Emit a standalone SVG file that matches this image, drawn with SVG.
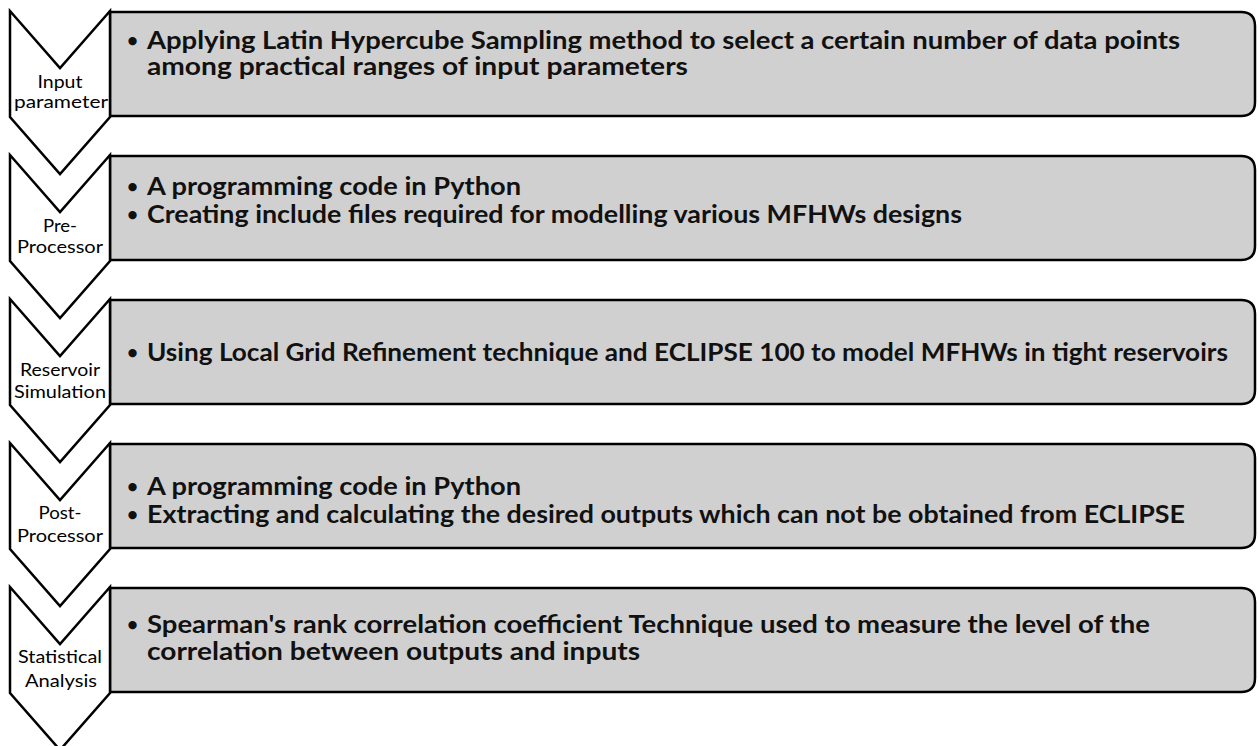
<svg xmlns="http://www.w3.org/2000/svg" width="1258" height="746" viewBox="0 0 1258 746">
<style>
.chev{fill:#ffffff;stroke:#000;stroke-width:2.5;stroke-linejoin:miter}
.box{fill:#d0d0d0;stroke:#000;stroke-width:2.5}
.lbl{font-family:Lato,"Liberation Sans",sans-serif;font-size:17px;fill:#000;text-anchor:middle}
.txt{font-family:Lato,"Liberation Sans",sans-serif;font-size:25px;font-weight:bold;fill:#111}
.bul{font-family:Lato,"Liberation Sans",sans-serif;font-size:19px;font-weight:bold;fill:#111}
</style>
<rect width="1258" height="746" fill="#fff"/>
<defs>
<path id="chevShape" d="M10,0 L60,57 L110,0 L110,106 L60,163 L10,106 Z"/>
<path id="boxShape" d="M110,1 L1241,1 Q1255,1 1255,15 L1255,91 Q1255,105 1241,105 L110,105 Z"/>
</defs>
<g id="node1" transform="translate(0,11)">
<use href="#boxShape" class="box"/>
<use href="#chevShape" class="chev"/>
<text class="lbl" x="60" y="77" textLength="45" lengthAdjust="spacingAndGlyphs">Input</text>
<text class="lbl" x="61" y="97" textLength="94" lengthAdjust="spacingAndGlyphs">parameter</text>
<text class="bul" x="127" y="36">•</text>
<text class="txt" x="147" y="38" textLength="1033" lengthAdjust="spacingAndGlyphs">Applying Latin Hypercube Sampling method to select a certain number of data points</text>
<text class="txt" x="147" y="64" textLength="541" lengthAdjust="spacingAndGlyphs">among practical ranges of input parameters</text>
</g>
<g id="node2" transform="translate(0,155)">
<use href="#boxShape" class="box"/>
<use href="#chevShape" class="chev"/>
<text class="lbl" x="60" y="77" textLength="34" lengthAdjust="spacingAndGlyphs">Pre-</text>
<text class="lbl" x="60" y="98" textLength="86" lengthAdjust="spacingAndGlyphs">Processor</text>
<text class="bul" x="127" y="38">•</text>
<text class="txt" x="147" y="40" textLength="374" lengthAdjust="spacingAndGlyphs">A programming code in Python</text>
<text class="bul" x="127" y="66">•</text>
<text class="txt" x="147" y="68" textLength="815" lengthAdjust="spacingAndGlyphs">Creating include files required for modelling various MFHWs designs</text>
</g>
<g id="node3" transform="translate(0,299)">
<use href="#boxShape" class="box"/>
<use href="#chevShape" class="chev"/>
<text class="lbl" x="60" y="77" textLength="80" lengthAdjust="spacingAndGlyphs">Reservoir</text>
<text class="lbl" x="60" y="99" textLength="92" lengthAdjust="spacingAndGlyphs">Simulation</text>
<text class="bul" x="127" y="60">•</text>
<text class="txt" x="147" y="62" textLength="1081" lengthAdjust="spacingAndGlyphs">Using Local Grid Refinement technique and ECLIPSE 100 to model MFHWs in tight reservoirs</text>
</g>
<g id="node4" transform="translate(0,443)">
<use href="#boxShape" class="box"/>
<use href="#chevShape" class="chev"/>
<text class="lbl" x="60" y="76" textLength="43" lengthAdjust="spacingAndGlyphs">Post-</text>
<text class="lbl" x="60" y="99" textLength="86" lengthAdjust="spacingAndGlyphs">Processor</text>
<text class="bul" x="127" y="50">•</text>
<text class="txt" x="147" y="52" textLength="374" lengthAdjust="spacingAndGlyphs">A programming code in Python</text>
<text class="bul" x="127" y="78">•</text>
<text class="txt" x="147" y="80" textLength="1038" lengthAdjust="spacingAndGlyphs">Extracting and calculating the desired outputs which can not be obtained from ECLIPSE</text>
</g>
<g id="node5" transform="translate(0,587)">
<use href="#boxShape" class="box"/>
<use href="#chevShape" class="chev"/>
<text class="lbl" x="60" y="76" textLength="84" lengthAdjust="spacingAndGlyphs">Statistical</text>
<text class="lbl" x="61" y="100" textLength="72" lengthAdjust="spacingAndGlyphs">Analysis</text>
<text class="bul" x="127" y="44">•</text>
<text class="txt" x="147" y="46" textLength="1003" lengthAdjust="spacingAndGlyphs">Spearman's rank correlation coefficient Technique used to measure the level of the</text>
<text class="txt" x="147" y="73" textLength="493" lengthAdjust="spacingAndGlyphs">correlation between outputs and inputs</text>
</g>
<g id="connectors"></g>
</svg>
